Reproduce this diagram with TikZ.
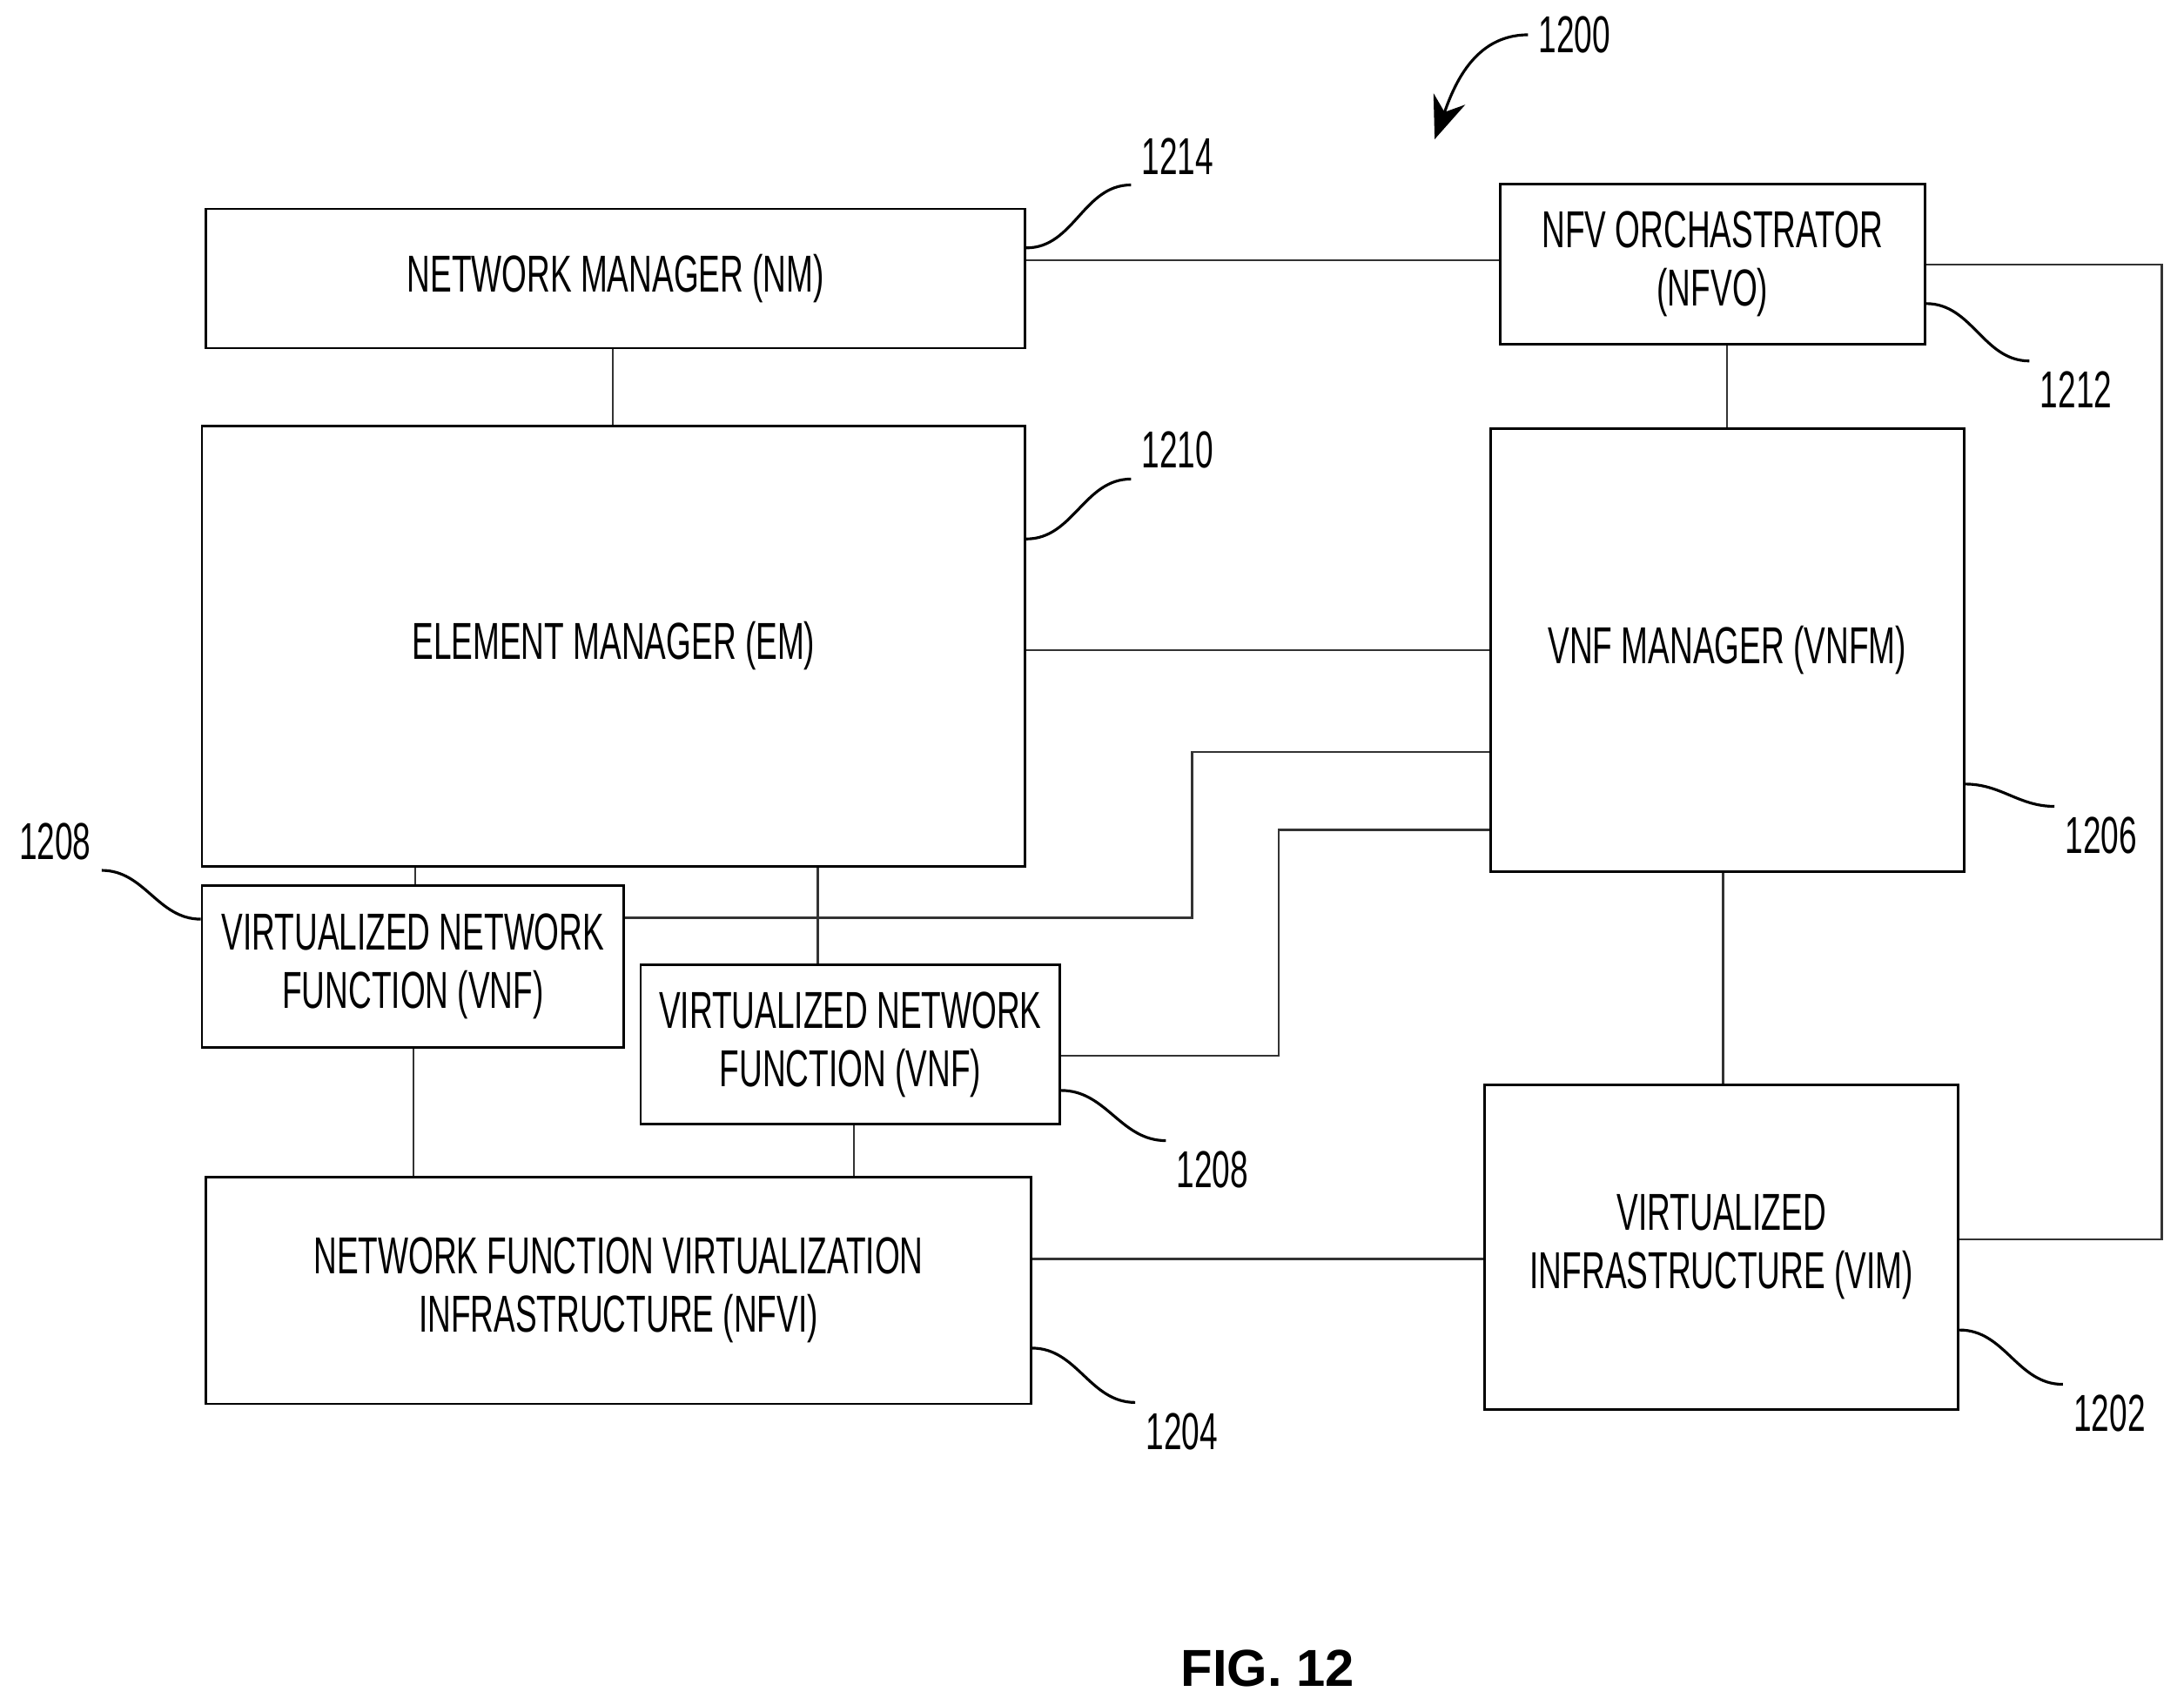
\documentclass[tikz,border=0pt]{standalone}
\usepackage{fontspec}
\setmainfont{Liberation Sans}[FakeStretch=0.62]
\usetikzlibrary{positioning,arrows.meta}

\begin{document}
\begin{tikzpicture}[x=0.016cm,y=-0.016cm,
  box/.style={draw, thick, inner sep=0pt, align=center, font=\fontsize{17}{19}\selectfont},
  link/.style={draw=black!80, line width=0.7pt},
  lead/.style={line width=0.9pt},
  num/.style={font=\fontsize{17}{20}\selectfont, anchor=west}
]
  \useasboundingbox (0,0) rectangle (1568,1224);
  % boxes
  \node[box, minimum width=588*0.016cm, minimum height=100*0.016cm] (nm) at (442,200) {NETWORK MANAGER (NM)};
  \node[box, minimum width=305*0.016cm, minimum height=115*0.016cm] (nfvo) at (1229.5,189.5) {NFV ORCHASTRATOR\\(NFVO)};
  \node[box, minimum width=591*0.016cm, minimum height=316*0.016cm] (em) at (440.5,464) {ELEMENT MANAGER (EM)};
  \node[box, minimum width=340*0.016cm, minimum height=318*0.016cm] (vnfm) at (1240,467) {VNF MANAGER (VNFM)};
  \node[box, minimum width=303*0.016cm, minimum height=116*0.016cm] (vnfa) at (296.5,694) {VIRTUALIZED NETWORK\\FUNCTION (VNF)};
  \node[box, minimum width=301*0.016cm, minimum height=114*0.016cm] (vnfb) at (610.5,750) {VIRTUALIZED NETWORK\\FUNCTION (VNF)};
  \node[box, minimum width=592*0.016cm, minimum height=163*0.016cm] (nfvi) at (444,926.5) {NETWORK FUNCTION VIRTUALIZATION\\INFRASTRUCTURE (NFVI)};
  \node[box, minimum width=340*0.016cm, minimum height=233*0.016cm] (vim) at (1236,895.5) {VIRTUALIZED\\INFRASTRUCTURE (VIM)};

  % connections
  \draw[link] (nm.east |- 0,187) -- (nfvo.west |- 0,187);
  \draw[link] (nm.south -| 440,0) -- (em.north -| 440,0);
  \draw[link] (nfvo.south -| 1240,0) -- (vnfm.north -| 1240,0);
  \draw[link] (em.east |- 0,467) -- (vnfm.west |- 0,467);
  \draw[link] (vnfa.east |- 0,659) -| (856,540) -- (vnfm.west |- 0,540);
  \draw[link] (vnfb.east |- 0,758) -| (918,596) -- (vnfm.west |- 0,596);
  \draw[link] (vnfm.south -| 1237,0) -- (vim.north -| 1237,0);
  \draw[link] (nfvi.east |- 0,904) -- (vim.west |- 0,904);
  \draw[link] (nfvo.east |- 0,190) -| (1552,890) -- (vim.east |- 0,890);
  \draw[link] (em.south -| 298,0) -- (vnfa.north -| 298,0);
  \draw[link] (em.south -| 587,0) -- (vnfb.north -| 587,0);
  \draw[link] (vnfa.south -| 297,0) -- (nfvi.north -| 297,0);
  \draw[link] (vnfb.south -| 613,0) -- (nfvi.north -| 613,0);

  % reference numerals
  \node[num] (n1214) at (812,112) {1214};
  \node[num] (n1210) at (812,323) {1210};
  \node[num] (n1212) at (1457,280) {1212};
  \node[num] (n1206) at (1475,600) {1206};
  \node[num] (n1208a) at (6,604) {1208};
  \node[num] (n1208b) at (837,840) {1208};
  \node[num] (n1204) at (815,1028) {1204};
  \node[num] (n1202) at (1481,1015) {1202};
  \node[num] (n1200) at (1097,25) {1200};

  \draw[lead] (nm.east |- 0,178) to[out=0,in=180] (n1214.south west);
  \draw[lead] (em.east |- 0,387) to[out=0,in=180] (n1210.south west);
  \draw[lead] (nfvo.east |- 0,218) to[out=0,in=180] (n1212.north west);
  \draw[lead] (vnfm.east |- 0,563) to[out=0,in=180] (n1206.north west);
  \draw[lead] (vnfa.west |- 0,660) to[out=180,in=0] (n1208a.south east);
  \draw[lead] (vnfb.east |- 0,783) to[out=0,in=180] (n1208b.north west);
  \draw[lead] (nfvi.east |- 0,968) to[out=0,in=180] (n1204.north west);
  \draw[lead] (vim.east |- 0,955) to[out=0,in=180] (n1202.north west);
  \draw[lead, -{Stealth[length=14pt,width=11pt]}] (n1200.west) to[out=180,in=70] (1030,100);

  \node[font=\fontspec{Liberation Sans}\bfseries\fontsize{17}{20}\selectfont] (fig) at (910,1198) {FIG. 12};
\end{tikzpicture}
\end{document}
